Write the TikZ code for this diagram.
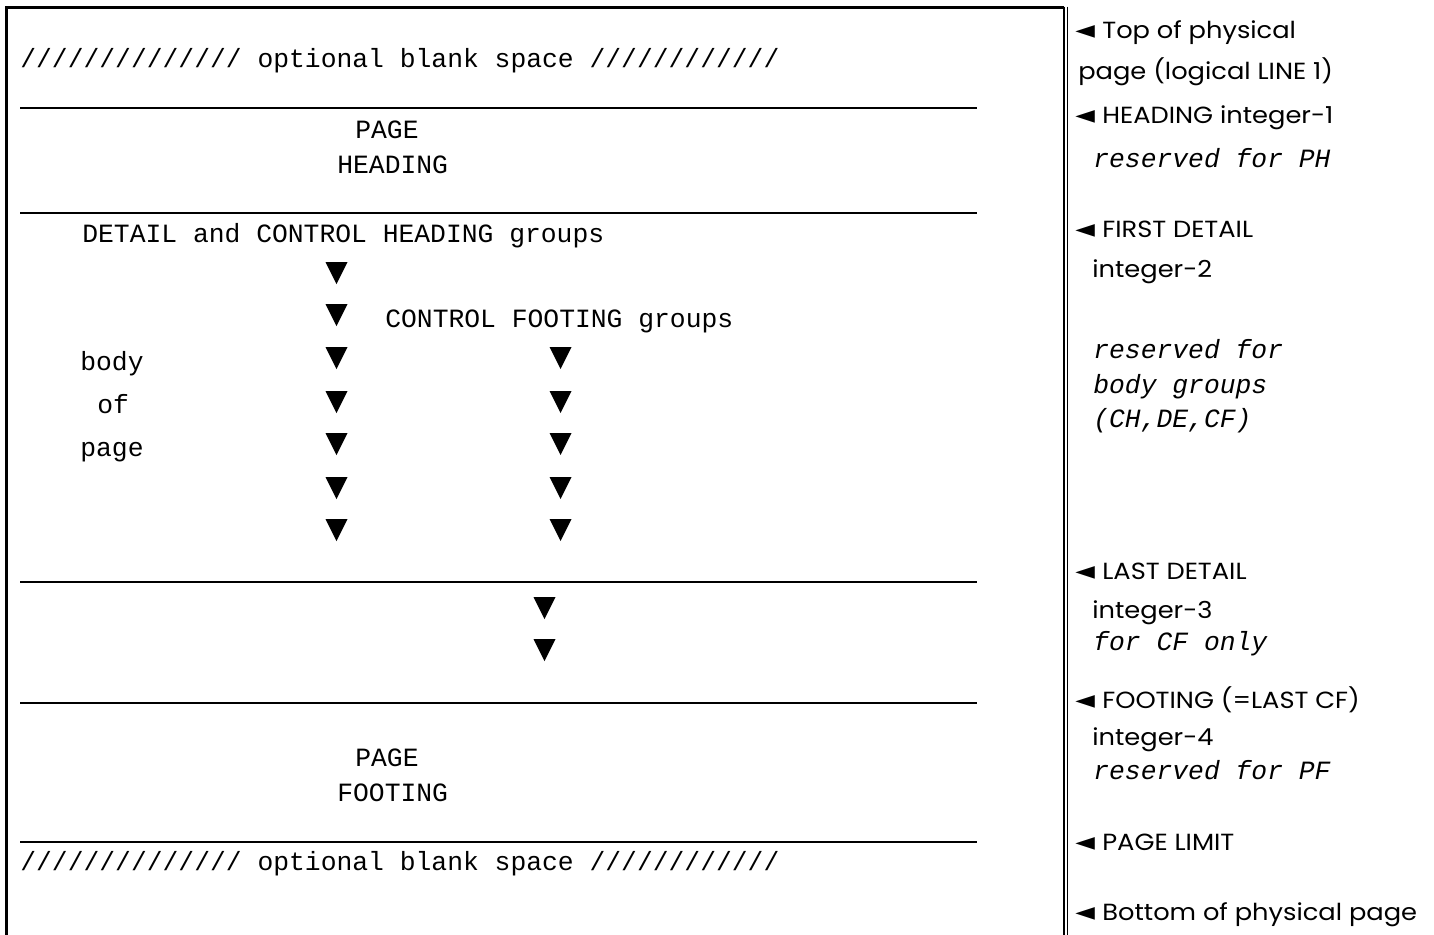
\documentclass[tikz,border=0pt]{standalone}
\usepackage{fontspec}
\setmainfont{Poppins}
\setmonofont{Liberation Mono}
\newfontfamily\labf[FakeStretch=1.1]{Poppins}
\newfontfamily\symf{DejaVu Sans}
\newcommand\dtri[2]{\fill (#1-11,#2-11) -- (#1+11,#2-11) -- (#1,#2+11) -- cycle;}
\begin{document}
\begin{tikzpicture}[x=0.02cm,y=-0.02cm,
  mono/.style={font=\ttfamily\fontsize{15}{18}\selectfont, anchor=base west, inner sep=0pt},
  imono/.style={font=\ttfamily\itshape\fontsize{15}{18}\selectfont, anchor=base west, inner sep=0pt},
  lab/.style={font=\labf\fontsize{13.3}{16}\selectfont, anchor=base west, inner sep=0pt},
  ptr/.style={font=\symf\fontsize{14.5}{18}\selectfont, anchor=base west, inner sep=0pt},
  rulel/.style={line width=0.85pt},
  frame/.style={line width=2pt},
  frameR/.style={line width=1.1pt}]
\useasboundingbox (0,0) rectangle (1434,934);
% frame
\draw[frame] (6.5,940) -- (6.5,7.5) -- (1064,7.5);
\draw[frameR] (1064,6.5) -- (1064,940);
\draw[frameR] (1067.5,6.5) -- (1067.5,940);
% horizontal rules
\foreach \yy in {108,213,582,703,842} \draw[rulel] (20,\yy) -- (977,\yy);
% left texts
\node[mono] (blank1) at (20,67) {////////////// optional blank space ////////////};
\node[mono] (ph1) at (355,138) {PAGE};
\node[mono] (ph2) at (337,173) {HEADING};
\node[mono] (dch) at (82,242) {DETAIL and CONTROL HEADING groups};
\node[mono] (cfg) at (385,327) {CONTROL FOOTING groups};
\node[mono] (bd1) at (80,370) {body};
\node[mono] (bd2) at (97,413) {of};
\node[mono] (bd3) at (80,456) {page};
\node[mono] (pf1) at (355,766) {PAGE};
\node[mono] (pf2) at (337,801) {FOOTING};
\node[mono] (blank2) at (20,870) {////////////// optional blank space ////////////};
% triangles
\foreach \yy in {273,315,358,402,444,488,530} {\dtri{336.5}{\yy}}
\foreach \yy in {358,402,444,488,530} {\dtri{560.5}{\yy}}
\dtri{544.5}{608}
\dtri{544.5}{650}
% right labels
\node[ptr] (p1) at (1075,38) {◄};
\node[lab] (t1) at (1102,38) {Top of physical};
\node[lab] (t1b) at (1078,79) {page (logical LINE 1)};
\node[ptr] (p2) at (1075,123) {◄};
\node[lab] (t2) at (1102,123) {HEADING integer-1};
\node[imono] (t2b) at (1093,167) {reserved for PH};
\node[ptr] (p3) at (1075,237) {◄};
\node[lab] (t3) at (1102,237) {FIRST DETAIL};
\node[lab] (t3b) at (1092,277) {integer-2};
\node[imono] (t3c) at (1093,358) {reserved for};
\node[imono] (t3d) at (1093,393) {body groups};
\node[imono] (t3e) at (1093,427) {(CH,DE,CF)};
\node[ptr] (p4) at (1075,579) {◄};
\node[lab] (t4) at (1102,579) {LAST DETAIL};
\node[lab] (t4b) at (1092,618) {integer-3};
\node[imono] (t4c) at (1093,650) {for CF only};
\node[ptr] (p5) at (1075,708) {◄};
\node[lab] (t5) at (1102,708) {FOOTING (=LAST CF)};
\node[lab] (t5b) at (1092,745) {integer-4};
\node[imono] (t5c) at (1093,779) {reserved for PF};
\node[ptr] (p6) at (1075,850) {◄};
\node[lab] (t6) at (1102,850) {PAGE LIMIT};
\node[ptr] (p7) at (1075,920) {◄};
\node[lab] (t7) at (1102,920) {Bottom of physical page};
\end{tikzpicture}
\end{document}
